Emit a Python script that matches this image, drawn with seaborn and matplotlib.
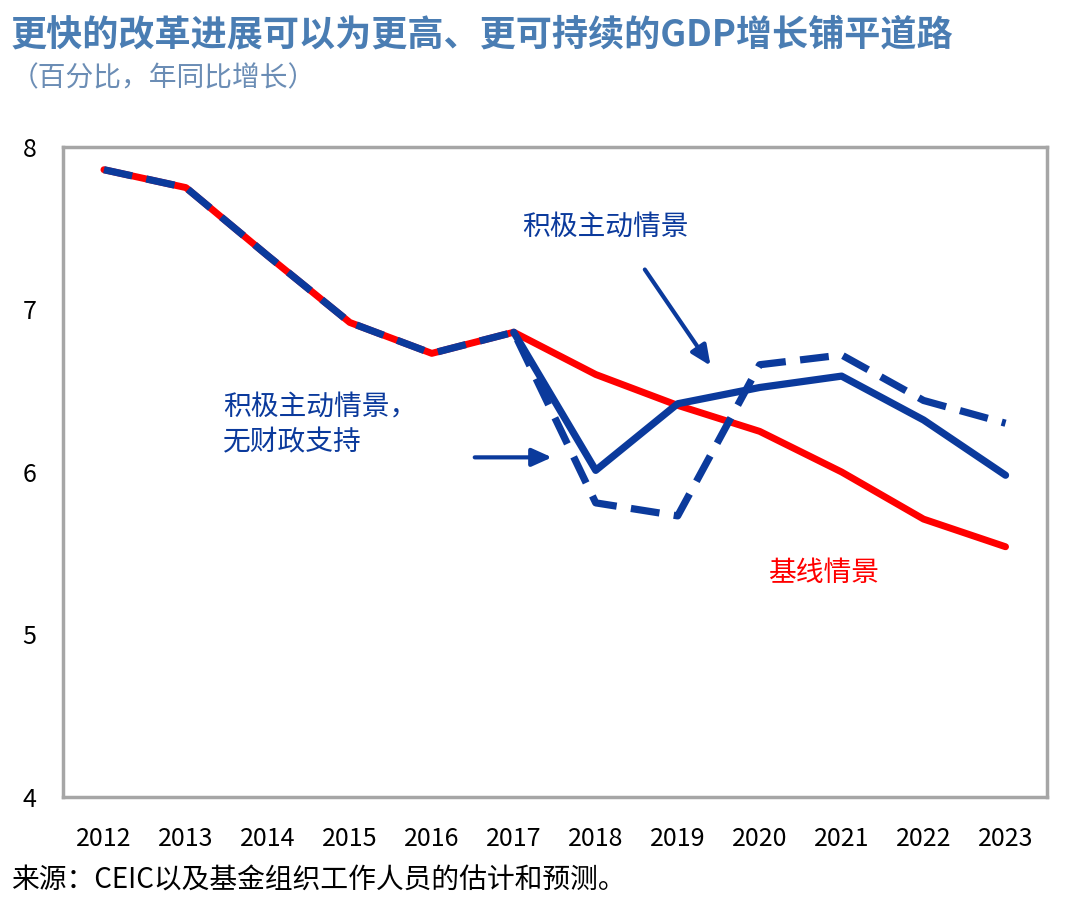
import numpy as np
import pandas as pd
import matplotlib
matplotlib.use('Agg')
import matplotlib.pyplot as plt
import seaborn as sns

# values (GDP growth, % y/y)
years = [2012, 2013, 2014, 2015, 2016, 2017, 2018, 2019, 2020, 2021, 2022, 2023]
baseline = [7.86, 7.75, 7.33, 6.92, 6.73, 6.86, 6.60, 6.41, 6.25, 6.00, 5.71, 5.54]
active_years = [2017, 2018, 2019, 2020, 2021, 2022, 2023]
active = [6.86, 6.01, 6.42, 6.52, 6.59, 6.32, 5.98]
no_fiscal = [7.86, 7.75, 7.33, 6.92, 6.73, 6.86, 5.81, 5.73, 6.66, 6.72, 6.44, 6.30]

title = '更快的改革进展可以为更高、更可持续的GDP增长铺平道路'
subtitle = '（百分比，年同比增长）'
source = '来源：CEIC以及基金组织工作人员的估计和预测。'

RED = '#FF0000'
BLUE = '#0B3A9C'
TITLE_BLUE = '#4A7DB3'

sns.set_theme(style='white')
plt.rcParams['font.family'] = ['Noto Sans CJK SC', 'DejaVu Sans']

fig = plt.figure(figsize=(10.8, 9.18), dpi=100)
ax = fig.add_axes([0.0583, 0.1318, 0.9107, 0.7081])

sns.lineplot(x=years, y=baseline, ax=ax, color=RED, linewidth=5, zorder=2)
sns.lineplot(x=active_years, y=active, ax=ax, color=BLUE, linewidth=5.2, zorder=3)
sns.lineplot(x=years, y=no_fiscal, ax=ax, color=BLUE, linewidth=5.2, zorder=4,
             dashes=False, linestyle=(0, (4, 2)))

ax.set_xlim(2011.5, 2023.5)
ax.set_ylim(4, 8)
ax.set_xticks(years)
ax.set_xticklabels([str(y) for y in years])
ax.set_yticks([4, 5, 6, 7, 8])
ax.tick_params(axis='x', labelsize=18, pad=21, length=0, colors='black')
ax.tick_params(axis='y', labelsize=18, pad=24, length=0, colors='black')
for lbl in ax.get_yticklabels():
    lbl.set_horizontalalignment('center')
for side in ax.spines.values():
    side.set_color('#A6A6A6')
    side.set_linewidth(2.5)

# annotations
ax.text(2017.1, 7.51, '积极主动情景', color=BLUE, fontsize=20, va='center')
ax.text(2013.45, 6.29, '积极主动情景，\n无财政支持', color=BLUE, fontsize=20,
        va='center', linespacing=1.2)
ax.text(2020.1, 5.38, '基线情景', color=RED, fontsize=20, va='center')
ax.annotate('', xy=(2019.42, 6.64), xytext=(2018.58, 7.26),
            arrowprops=dict(arrowstyle='-|>,head_length=1.0,head_width=0.45',
                            color=BLUE, lw=3))
ax.annotate('', xy=(2017.5, 6.09), xytext=(2016.49, 6.09),
            arrowprops=dict(arrowstyle='-|>,head_length=1.0,head_width=0.45',
                            color=BLUE, lw=3))

fig.text(0.010, 0.962, title, color=TITLE_BLUE, fontsize=26, fontweight='bold', va='center')
fig.text(0.010, 0.915, subtitle, color='#6B8DB5', fontsize=20, va='center')
fig.text(0.010, 0.041, source, color='black', fontsize=20, va='center')

fig.savefig('out.png', dpi=100)
